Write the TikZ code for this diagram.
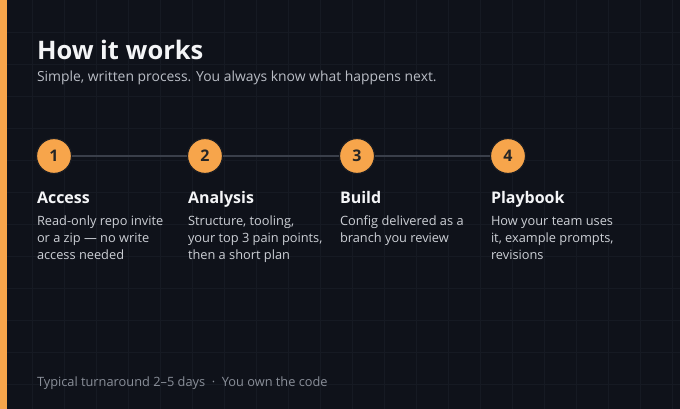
\documentclass[tikz,border=0pt]{standalone}
\usepackage{fontspec}
\setmainfont{Open Sans}
\definecolor{bg}{HTML}{0F121A}
\definecolor{gridc}{HTML}{161A23}
\definecolor{accent}{HTML}{F7A54B}
\definecolor{ttl}{HTML}{F4F5F7}
\definecolor{sub}{HTML}{B9BDC5}
\definecolor{desc}{HTML}{CDD0D6}
\definecolor{foot}{HTML}{8A8F99}
\definecolor{conn}{HTML}{3A3F4A}
\definecolor{ring}{HTML}{1A1C22}
\tikzset{
  x=1pt, y=-1pt,
  txt/.style={anchor=base west, inner sep=0pt, outer sep=0pt},
  stepnum/.style={circle, fill=accent, draw=ring, line width=1.2pt, minimum size=35pt, inner sep=0pt,
    text=black!85, font=\fontsize{16}{16}\selectfont\bfseries},
  steptitle/.style={txt, text=ttl, font=\fontsize{16}{16}\selectfont\bfseries},
  stepdesc/.style={txt, text=desc, align=left, font=\fontsize{12.8}{17}\selectfont},
  link/.style={draw=conn, line width=2pt},
}
\begin{document}
\begin{tikzpicture}
\fill[bg] (0,0) rectangle (680,409);
\useasboundingbox (0,0) rectangle (680,409);
\foreach \gx in {32,64,...,672} \draw[gridc, line width=0.6pt] (\gx,0) -- (\gx,409);
\foreach \gy in {32,64,...,400} \draw[gridc, line width=0.6pt] (0,\gy) -- (680,\gy);
\fill[accent] (0,0) rectangle (7,409);

\node[txt, text=ttl, font=\fontsize{25.5}{26}\selectfont\bfseries] (title) at (37,60) {How it works};
\node[txt, text=sub, font=\fontsize{13.9}{14}\selectfont] (subtitle) at (37,82) {Simple, written process. You always know what happens next.};

\node[stepnum] (c1) at (54,156) {1};
\node[stepnum] (c2) at (205,156) {2};
\node[stepnum] (c3) at (357,156) {3};
\node[stepnum] (c4) at (508,156) {4};
\draw[link] (c1) -- (c2);
\draw[link] (c2) -- (c3);
\draw[link] (c3) -- (c4);

\node[steptitle] (t1) at (37,203) {Access};
\node[steptitle] (t2) at (188,203) {Analysis};
\node[steptitle] (t3) at (340,203) {Build};
\node[steptitle] (t4) at (491,203) {Playbook};

\node[stepdesc, anchor=north west] (d1) at (37,216) {Read-only repo invite\\or a zip — no write\\access needed};
\node[stepdesc, anchor=north west] (d2) at (188,216) {Structure, tooling,\\your top 3 pain points,\\then a short plan};
\node[stepdesc, anchor=north west] (d3) at (340,216) {Config delivered as a\\branch you review};
\node[stepdesc, anchor=north west] (d4) at (491,216) {How your team uses\\it, example prompts,\\revisions};

\node[txt, text=foot, font=\fontsize{12.8}{13}\selectfont] (footer) at (37,386) {Typical turnaround 2–5 days \ ·\ \ You own the code};
\end{tikzpicture}
\end{document}
